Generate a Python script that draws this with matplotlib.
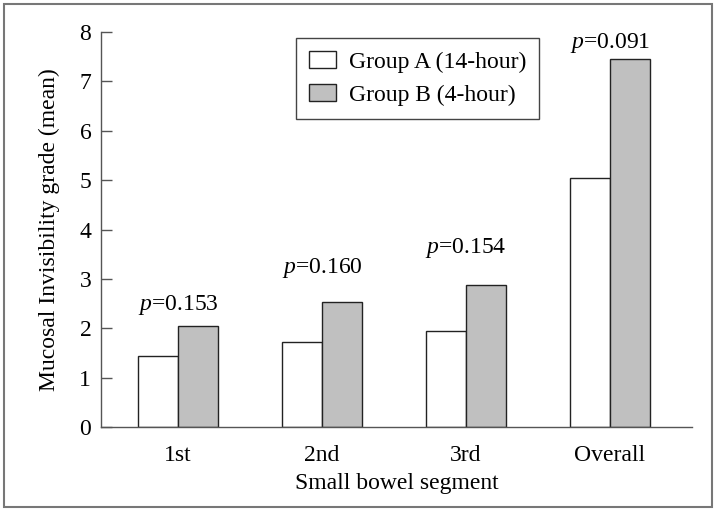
import numpy as np
import matplotlib.pyplot as plt
from matplotlib.patches import Rectangle

# dados
segmentos = ['1st', '2nd', '3rd', 'Overall']
grupo_a = [1.43, 1.72, 1.95, 5.05]
grupo_b = [2.05, 2.54, 2.88, 7.46]
p_valores = ['0.153', '0.160', '0.154', '0.091']
p_altura = [2.37, 3.12, 3.52, 7.67]

plt.rcParams['font.family'] = ['Liberation Serif', 'DejaVu Serif']
plt.rcParams['font.size'] = 17
plt.rcParams['mathtext.fontset'] = 'custom'
plt.rcParams['mathtext.it'] = 'Liberation Serif:italic'
plt.rcParams['mathtext.rm'] = 'Liberation Serif'

fig = plt.figure(figsize=(7.17, 5.12), dpi=100)
ax = fig.add_axes([101 / 717, 1 - 427 / 512, 591 / 717, 395 / 512])

x = np.arange(len(segmentos))
w = 0.278
ax.bar(x - w / 2, grupo_a, w, color='white', edgecolor='#222222', linewidth=1,
       label='Group A (14-hour)')
ax.bar(x + w / 2, grupo_b, w, color='#c0c0c0', edgecolor='#222222', linewidth=1,
       label='Group B (4-hour)')

for xi, p, h in zip(x, p_valores, p_altura):
    ax.text(xi, h, r'$p$=' + p, ha='center', va='baseline', fontsize=17)

ax.set_xlim(-0.535, 3.57)
ax.set_ylim(0, 8)
ax.set_xticks(x)
ax.set_xticklabels(segmentos)
ax.set_yticks(range(9))
ax.tick_params(axis='x', length=0, pad=13)
ax.tick_params(axis='y', direction='in', length=8, width=1, pad=7, color='#555555')
ax.spines['top'].set_visible(False)
ax.spines['right'].set_visible(False)
for s in ['left', 'bottom']:
    ax.spines[s].set_color('#555555')
    ax.spines[s].set_linewidth(1)

ax.set_xlabel('Small bowel segment', labelpad=5)
ax.set_ylabel('Mucosal Invisibility grade (mean)', labelpad=14)

leg = ax.legend(loc='upper left', bbox_to_anchor=(296 / 717, 1 - 38 / 512),
                bbox_transform=fig.transFigure, borderaxespad=0, fancybox=False,
                framealpha=1, edgecolor='#444444', handlelength=1.15,
                handleheight=0.72, handletextpad=0.55, borderpad=0.55,
                labelspacing=0.5)
leg.get_frame().set_linewidth(1)

# moldura em volta da figura
fig.patches.append(Rectangle((4 / 717, 5 / 512), 708 / 717, 503 / 512,
                             transform=fig.transFigure, fill=False,
                             edgecolor='#777777', linewidth=1.5))

fig.savefig('out.png', dpi=100)
